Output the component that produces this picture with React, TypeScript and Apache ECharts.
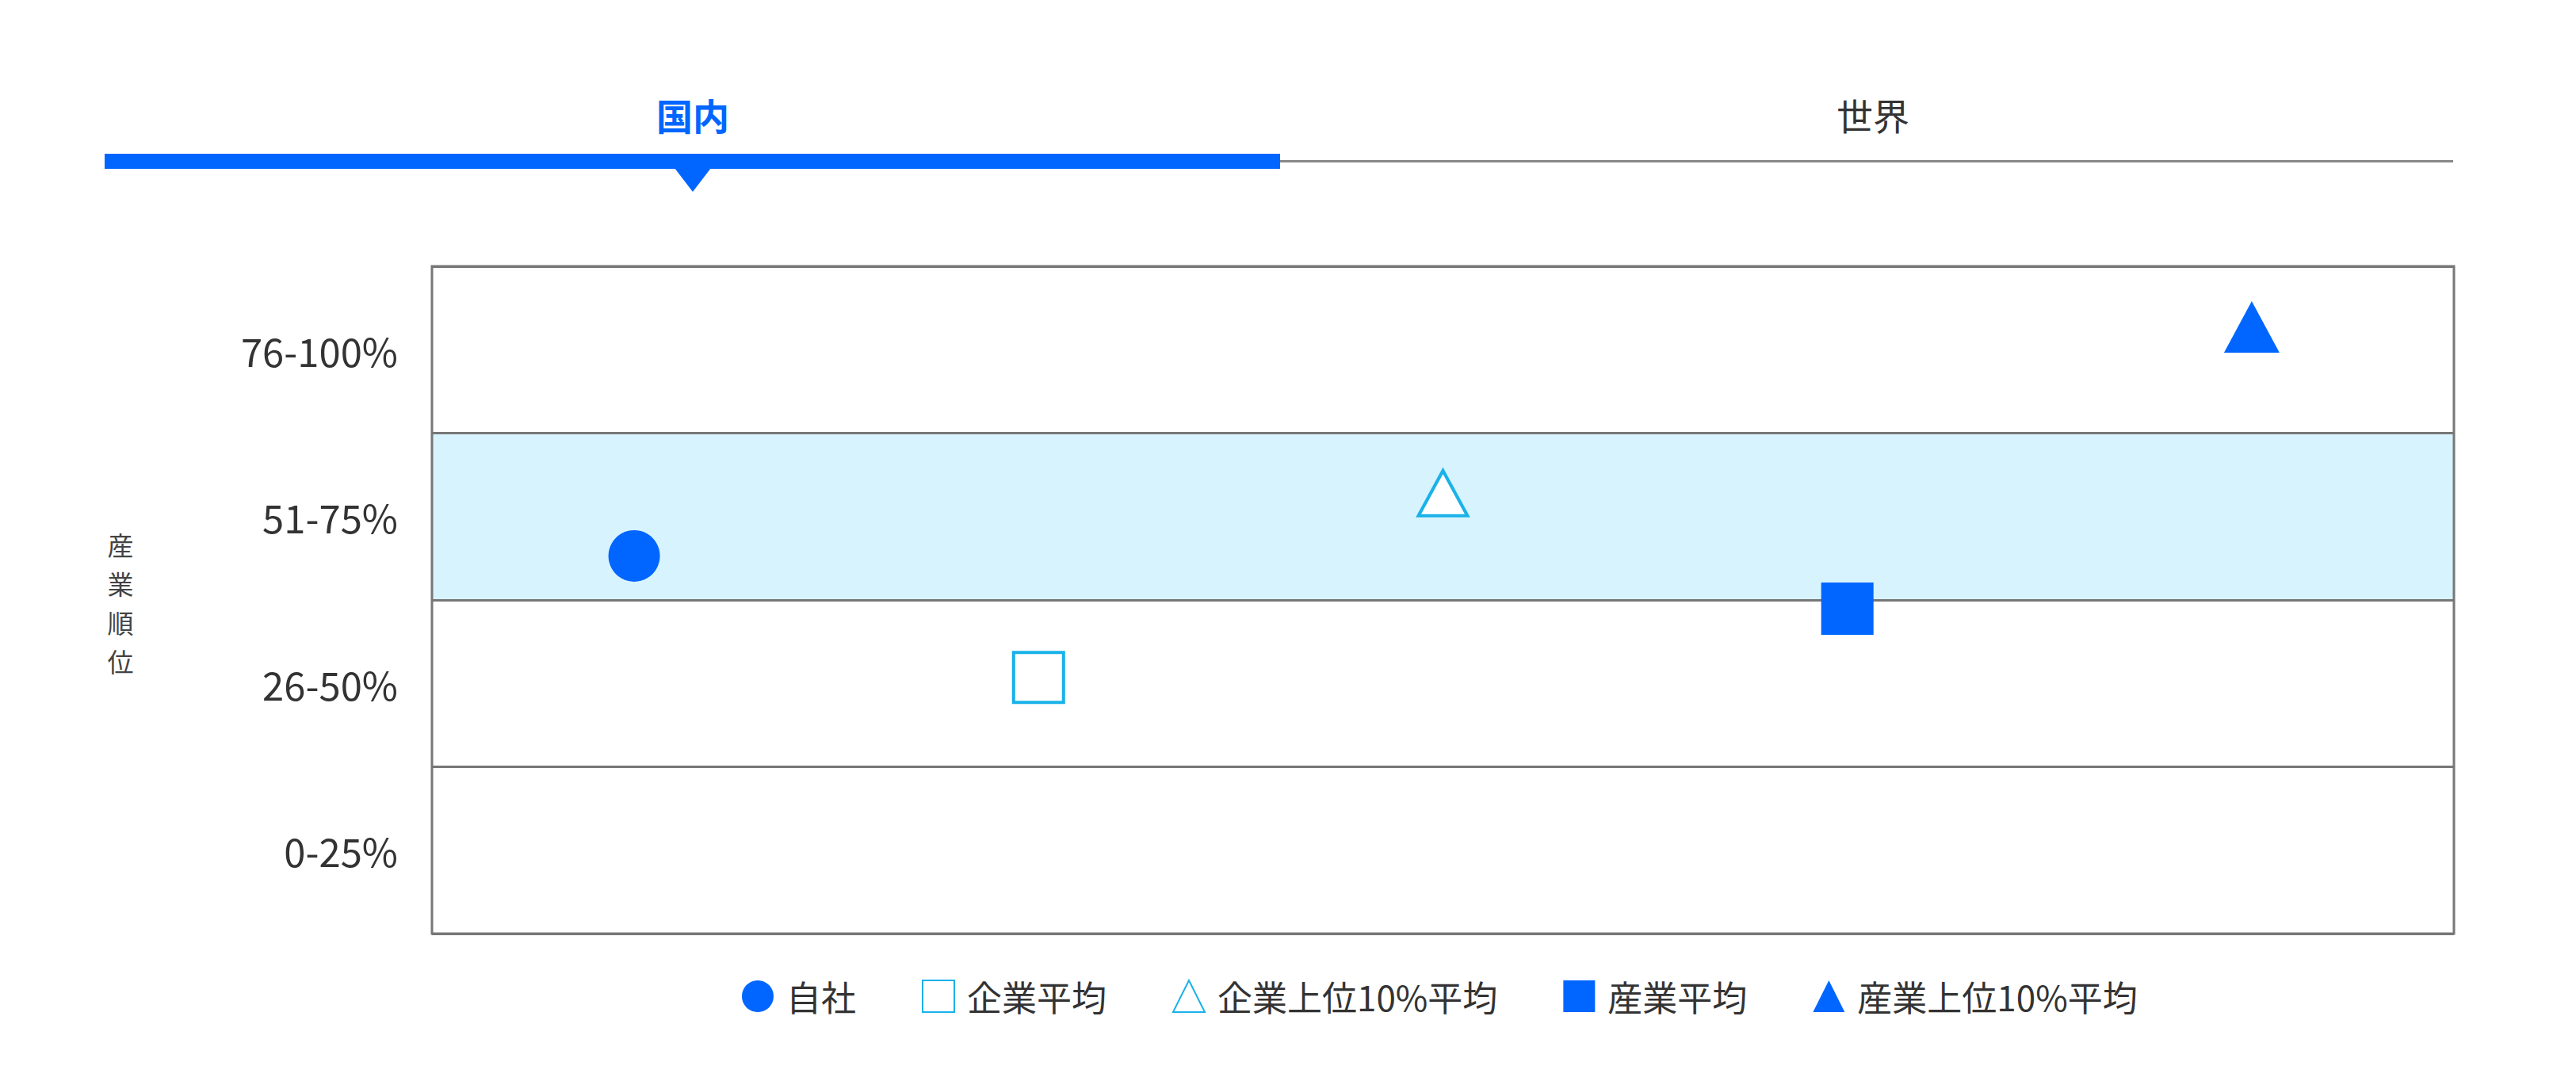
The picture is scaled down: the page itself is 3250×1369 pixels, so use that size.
import React, { useEffect, useRef } from "react";
import * as echarts from "echarts";

// ---- data ----
const categories = ["自社", "企業平均", "企業上位10%平均", "産業平均", "産業上位10%平均"];
const rankValues = [56.6, 38.4, 66.0, 48.7, 90.9];
const rankBands = ["0-25%", "26-50%", "51-75%", "76-100%"];
const tabs = ["国内", "世界"];
const yAxisName = "産業順位";

// ---- styles ----
const FONT = '"Noto Sans CJK JP", "Noto Sans", sans-serif';
const BLUE = "#0066ff";
const CYAN = "#1ab2e8";
const symbolStyles = [
  { symbol: "circle", size: 65, itemStyle: { color: BLUE, opacity: 1 } },
  { symbol: "rect", size: 63, itemStyle: { color: "#ffffff", borderColor: CYAN, borderWidth: 4, opacity: 1 } },
  { symbol: "triangle", size: [62, 57], itemStyle: { color: "#ffffff", borderColor: CYAN, borderWidth: 4, opacity: 1 } },
  { symbol: "rect", size: 66, itemStyle: { color: BLUE, opacity: 1 } },
  { symbol: "triangle", size: [70, 65], itemStyle: { color: BLUE, opacity: 1 } },
];

export default function App() {
  const ref = useRef<HTMLDivElement>(null);

  useEffect(() => {
    if (!ref.current) return;
    const chart = echarts.init(ref.current, null, { renderer: "svg" });

    const series = categories.map((name, i) => ({
      name,
      type: "scatter",
      xAxisIndex: 0,
      yAxisIndex: 0,
      symbol: symbolStyles[i].symbol,
      symbolSize: symbolStyles[i].size,
      itemStyle: symbolStyles[i].itemStyle,
      data: [[categories[i], rankValues[i]]],
      z: 2,
    }));

    const nameChars = yAxisName.split("").map((ch, i) => ({
      type: "text",
      x: 152,
      y: 687 + i * 49,
      style: {
        text: ch,
        fontSize: 33,
        fontFamily: FONT,
        fill: "#444444",
        align: "center",
        verticalAlign: "middle",
      },
    }));

    chart.setOption({
      animation: false,
      backgroundColor: "#ffffff",
      textStyle: { fontFamily: FONT },
      grid: {
        left: 545,
        top: 336,
        width: 2551,
        height: 842,
        show: true,
        borderColor: "#777777",
        borderWidth: 3,
        backgroundColor: "transparent",
        z: 3,
      },
      xAxis: {
        type: "category",
        data: categories,
        show: false,
        boundaryGap: true,
      },
      yAxis: [
        {
          type: "value",
          min: 0,
          max: 100,
          interval: 25,
          show: false,
        },
        {
          type: "category",
          data: rankBands,
          position: "left",
          boundaryGap: true,
          axisLine: { show: false },
          axisTick: { show: false },
          axisLabel: {
            fontSize: 49,
            color: "#333333",
            margin: 43,
            fontFamily: FONT,
          },
          splitLine: { show: true, lineStyle: { color: "#777777", width: 3 } },
          splitArea: {
            show: true,
            areaStyle: {
              color: ["rgba(0,0,0,0)", "rgba(0,0,0,0)", "#d7f3fd", "rgba(0,0,0,0)"],
            },
          },
        },
      ],
      legend: {
        data: categories,
        left: 931,
        top: 1230,
        itemWidth: 40,
        itemHeight: 40,
        itemGap: 83,
        textStyle: {
          fontSize: 44,
          color: "#333333",
          fontFamily: FONT,
          padding: [0, 0, 0, 11],
        },
      },
      graphic: [
        {
          type: "text",
          x: 874,
          y: 144,
          style: {
            text: tabs[0],
            fontSize: 46,
            fontWeight: "bold",
            fontFamily: FONT,
            fill: BLUE,
            align: "center",
            verticalAlign: "middle",
          },
        },
        {
          type: "text",
          x: 2363,
          y: 144,
          style: {
            text: tabs[1],
            fontSize: 46,
            fontFamily: FONT,
            fill: "#333333",
            align: "center",
            verticalAlign: "middle",
          },
        },
        {
          type: "line",
          shape: { x1: 1615, y1: 203.5, x2: 3095, y2: 203.5 },
          style: { stroke: "#888888", lineWidth: 3 },
        },
        {
          type: "rect",
          shape: { x: 132, y: 194, width: 1483, height: 19 },
          style: { fill: BLUE },
        },
        {
          type: "polygon",
          shape: { points: [[851, 212], [897, 212], [874, 242]] },
          style: { fill: BLUE },
        },
        ...nameChars,
      ],
      series,
    });

    return () => chart.dispose();
  }, []);

  return (
    <div
      ref={ref}
      style={{ position: "absolute", left: 0, top: 0, width: 3250, height: 1369 }}
    />
  );
}
